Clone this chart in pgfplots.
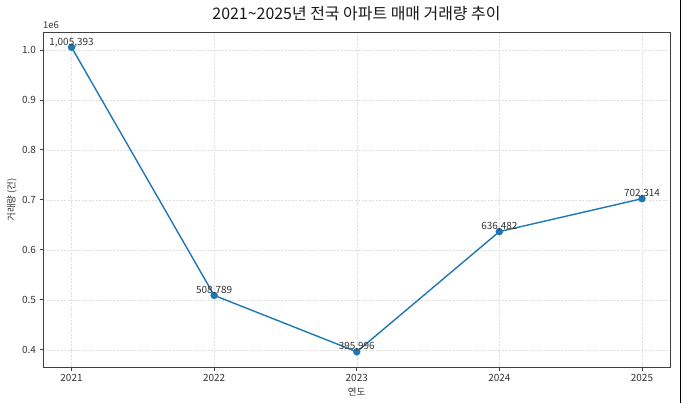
\documentclass[border=0pt]{standalone}
\usepackage{pgfplots}
\pgfplotsset{compat=1.18}
\usepackage{fontspec}
\setmainfont{Noto Sans CJK KR}
\definecolor{mplblue}{HTML}{1F77B4}
\definecolor{txt}{HTML}{333333}
\begin{document}
\begin{tikzpicture}[x=1bp,y=1bp]
\path[use as bounding box] (0,0) rectangle (682,403);
\draw[black,line width=1.2bp] (680.5,0) -- (680.5,403);
\begin{axis}[
  at={(43bp,36bp)}, anchor=south west,
  scale only axis, width=627.5bp, height=335bp,
  xmin=2020.8, xmax=2025.2,
  ymin=0.3655, ymax=1.0359,
  xtick={2021,2022,2023,2024,2025},
  xticklabels={2021,2022,2023,2024,2025},
  ytick={0.4,0.5,0.6,0.7,0.8,0.9,1.0},
  yticklabel style={/pgf/number format/.cd,fixed,fixed zerofill,precision=1},
  /pgf/number format/assume math mode=true,
  tick label style={font=\fontsize{10}{11}\selectfont, text=txt},
  grid=major,
  major grid style={dash pattern=on 2bp off 1.5bp, black!13, line width=0.5bp},
  axis line style={draw=black!75, line width=0.8bp},
  tick style={draw=black!75, line width=0.8bp},
  tick align=outside,
  major tick length=3.5bp,
  xtick pos=bottom, ytick pos=left,
  clip=false,
]
\addplot[mplblue, line width=1.4bp, mark=*, mark size=3bp, mark options={fill=mplblue, draw=mplblue},
  nodes near coords, point meta=explicit symbolic,
  every node near coord/.style={font=\fontsize{10}{11}\selectfont, text=txt, anchor=base, inner sep=0pt, yshift=2bp}]
  table[meta=label] {
x y label
2021 1.005393 {1,005,393}
2022 0.508789 {508,789}
2023 0.395996 {395,996}
2024 0.636482 {636,482}
2025 0.702314 {702,314}
};
\end{axis}
\node[font=\fontsize{9.5}{10}\selectfont, text=txt, anchor=base west, inner sep=0pt] at (43,375) {1e6};
\node[font=\fontsize{16}{18}\selectfont, text=black!90] at (356.5,389) {2021\textasciitilde2025년 전국 아파트 매매 거래량 추이};
\node[font=\fontsize{9.5}{10}\selectfont, text=txt] at (356.5,11) {연도};
\node[font=\fontsize{9.5}{10}\selectfont, text=txt, rotate=90] at (12,203) {거래량 (건)};
\end{tikzpicture}
\end{document}
